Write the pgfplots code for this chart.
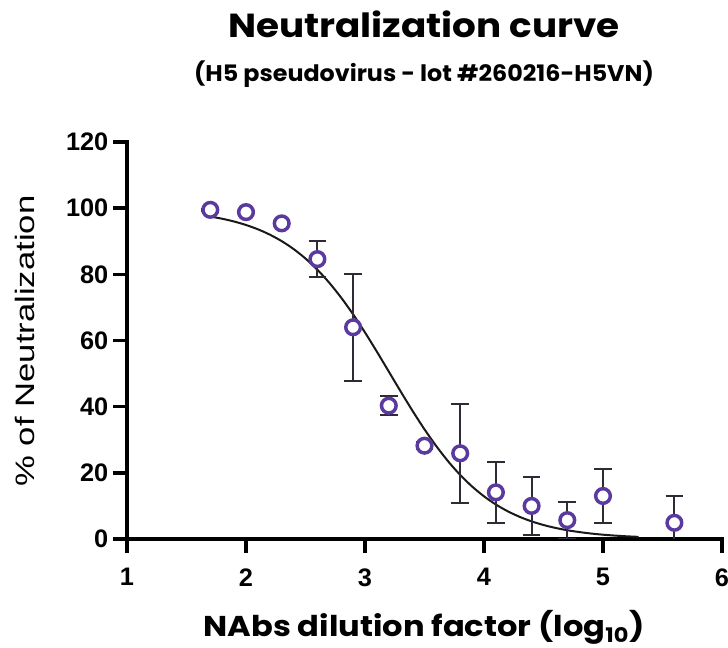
\documentclass[border=0pt]{standalone}
\usepackage{fontspec}
\usepackage{pgfplots}
\pgfplotsset{compat=1.18}
\usepackage{pgfplotstable}
\usepackage{graphicx}
\newfontfamily\poppins{Poppins}
\newfontfamily\arial{Liberation Sans}
\definecolor{markpurple}{HTML}{5B3AA0}
\definecolor{errgray}{HTML}{302A34}

\pgfplotstableread{
x y err
1.7 99.5 0.3
2.0 98.8 0.3
2.3 95.4 0.3
2.6 84.6 5.4
2.9 64.0 16.2
3.2 40.3 2.8
3.5 28.2 1.0
3.8 25.9 14.9
4.1 14.1 9.2
4.4 10.0 8.7
4.7 5.7 5.6
5.0 13.0 8.1
5.6 4.9 8.2
}\datatable

\pgfplotstableread{
x y
1.7 97.47
1.8 96.80
1.9 95.96
2.0 94.91
2.1 93.61
2.2 92.00
2.3 90.03
2.4 87.64
2.5 84.77
2.6 81.38
2.7 77.44
2.8 72.94
2.9 67.91
3.0 62.43
3.1 56.61
3.2 50.60
3.3 44.58
3.4 38.71
3.5 33.15
3.6 28.03
3.7 23.42
3.8 19.36
3.9 15.87
4.0 12.90
4.1 10.42
4.2 8.37
4.3 6.69
4.4 5.33
4.5 4.23
4.6 3.35
4.7 2.65
4.8 2.10
4.9 1.65
5.0 1.30
5.1 1.03
5.2 0.81
5.3 0.64
}\fittable

\begin{document}
\begin{tikzpicture}
\path[use as bounding box] (-95.25pt,-81.75pt) rectangle (450.75pt,404.25pt);
\begin{axis}[
  at={(0,0)}, anchor=south west,
  scale only axis, width=446.25pt, height=297.75pt,
  xmin=1, xmax=6, ymin=0, ymax=120,
  axis x line*=bottom, axis y line*=left,
  axis line style={-, line width=2.6pt, line cap=rect},
  xtick={1,2,3,4,5,6}, ytick={0,20,40,60,80,100,120},
  tick align=outside, major tick length=10.5pt,
  every tick/.style={black, line width=2.6pt},
  ticklabel style={font=\arial\bfseries\fontsize{19}{19}\selectfont},
  xticklabel style={yshift=-8pt},
  yticklabel style={xshift=0pt},
  /pgf/number format/assume math mode=true,
]
\addplot[black!90, line width=1.5pt, no marks, smooth] table[x=x, y=y] {\fittable};
\addplot[only marks, mark=*, mark size=5.5pt,
  mark options={draw=markpurple, fill=white, line width=2.6pt},
  error bars/.cd, y dir=both, y explicit,
  error bar style={errgray, line width=1.5pt},
  error mark options={rotate=90, errgray, mark size=6.6pt, line width=1.5pt}]
  table[x=x, y=y, y error=err] {\datatable};
\end{axis}
\node[anchor=base] at (222.75pt,375.75pt) {\scalebox{1.12}[1]{\poppins\bfseries\fontsize{25}{25}\selectfont Neutralization curve}};
\node[anchor=base] at (222.75pt,343.1pt) {\scalebox{1.05}[1]{\poppins\bfseries\fontsize{17}{17}\selectfont (H5 pseudovirus - lot \#260216-H5VN)}};
\node[anchor=base] at (222.75pt,-73.5pt) {\scalebox{1.12}[1]{\poppins\bfseries\fontsize{21.5}{21.5}\selectfont NAbs dilution factor (log\textsubscript{10})}};
\node[anchor=base, rotate=90] at (-69pt,148.5pt) {\scalebox{1.3}[1]{\arial\fontsize{20}{20}\selectfont \% of Neutralization}};
\end{tikzpicture}
\end{document}
